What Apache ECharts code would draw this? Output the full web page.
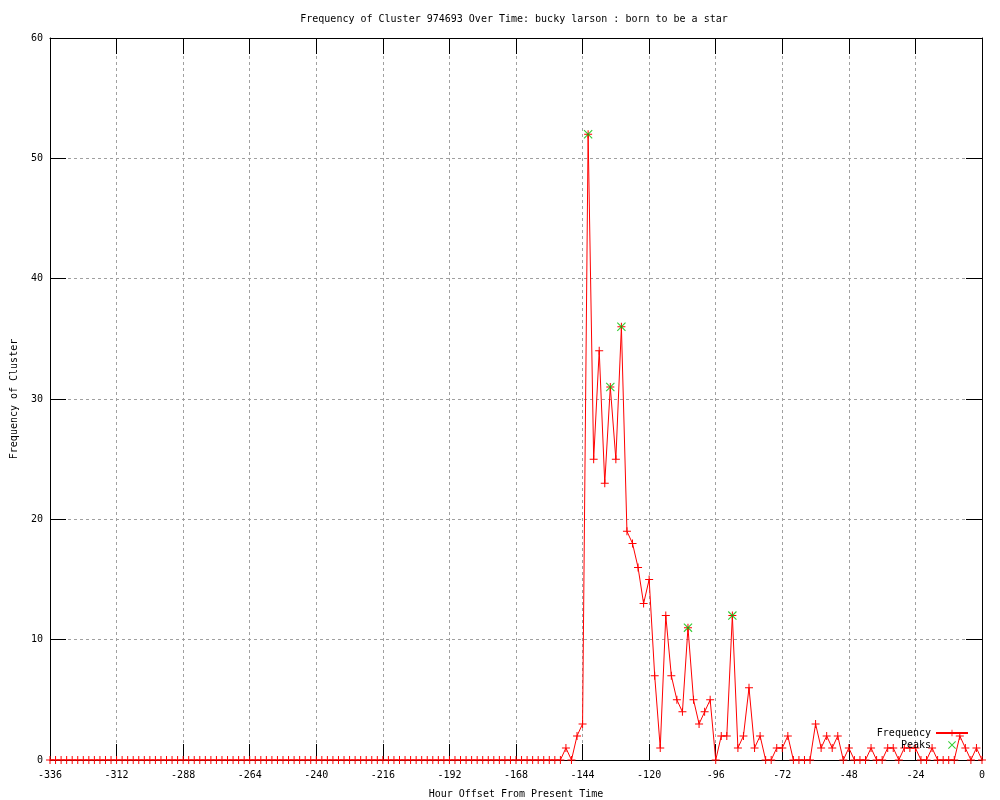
<!DOCTYPE html>
<html>
<head>
<meta charset="utf-8">
<title>Frequency of Cluster 974693</title>
<script src="https://cdn.jsdelivr.net/npm/echarts@6/dist/echarts.min.js"></script>
<style>
  html, body { margin: 0; padding: 0; background: #fff; }
  #chart { width: 1000px; height: 800px; }
</style>
</head>
<body>
<div id="chart"></div>
<script>
// hours run from -336 to 0, one sample every 2 hours
const startHour = -336
const stepHours = 2
const freq = [
  0, 0, 0, 0, 0, 0, 0, 0, 0, 0, 0, 0,
  0, 0, 0, 0, 0, 0, 0, 0, 0, 0, 0, 0,
  0, 0, 0, 0, 0, 0, 0, 0, 0, 0, 0, 0,
  0, 0, 0, 0, 0, 0, 0, 0, 0, 0, 0, 0,
  0, 0, 0, 0, 0, 0, 0, 0, 0, 0, 0, 0,
  0, 0, 0, 0, 0, 0, 0, 0, 0, 0, 0, 0,
  0, 0, 0, 0, 0, 0, 0, 0, 0, 0, 0, 0,
  0, 0, 0, 0, 0, 0, 0, 0, 0, 1, 0, 2,
  3, 52, 25, 34, 23, 31, 25, 36, 19, 18, 16, 13,
  15, 7, 1, 12, 7, 5, 4, 11, 5, 3, 4, 5,
  0, 2, 2, 12, 1, 2, 6, 1, 2, 0, 0, 1,
  1, 2, 0, 0, 0, 0, 3, 1, 2, 1, 2, 0,
  1, 0, 0, 0, 1, 0, 0, 1, 1, 0, 1, 1,
  1, 0, 0, 1, 0, 0, 0, 0, 2, 1, 0, 1,
  0
]
const peakHours = [-142, -134, -130, -106, -90]
const peakValues = [52, 31, 36, 11, 12]

const freqData = freq.map((v, i) => [startHour + i * stepHours, v])
const peakData = peakHours.map((h, i) => [h, peakValues[i]])

const FONT = 'DejaVu Sans Mono'
const plusSymbol = 'path://M0,3.5H8V4.5H0Z M3.5,0H4.5V8H3.5Z'
const crossSymbol = 'path://M0,0.8L0.8,0L9,8.2L8.2,9Z M8.2,0L9,0.8L0.8,9L0,8.2Z'

const tick = { show: true, inside: true, length: 16, lineStyle: { color: '#000', width: 1 } }
const border = { show: true, onZero: false, lineStyle: { color: '#000', width: 1 } }
const grid = { show: true, lineStyle: { color: '#a0a0a0', type: [3, 3], width: 1 } }

const chart = echarts.init(document.getElementById('chart'))
chart.setOption({
  animation: false,
  backgroundColor: '#fff',
  title: {
    text: 'Frequency of Cluster 974693 Over Time: bucky larson : born to be a star',
    left: 509,
    textAlign: 'center',
    top: 9,
    textStyle: { fontFamily: FONT, fontSize: 10, fontWeight: 'normal', color: '#000' }
  },
  legend: {
    orient: 'vertical',
    right: 31,
    top: 728,
    padding: 0,
    align: 'right',
    itemWidth: 32,
    itemHeight: 8,
    itemGap: 2,
    textStyle: { fontFamily: FONT, fontSize: 10, color: '#000' },
    data: ['Frequency', 'Peaks']
  },
  grid: { left: 50, right: 18, top: 38, bottom: 40, containLabel: false, outerBoundsMode: 'none' },
  xAxis: [
    {
      type: 'value',
      min: -336,
      max: 0,
      interval: 24,
      name: 'Hour Offset From Present Time',
      nameLocation: 'middle',
      nameGap: 29,
      nameTextStyle: { fontFamily: FONT, fontSize: 10, color: '#000' },
      axisLine: border,
      axisTick: tick,
      axisLabel: { margin: 10, fontFamily: FONT, fontSize: 10, color: '#000' },
      splitLine: grid
    },
    {
      type: 'value',
      position: 'top',
      min: -336,
      max: 0,
      interval: 24,
      axisLine: border,
      axisTick: tick,
      axisLabel: { show: false },
      splitLine: { show: false }
    }
  ],
  yAxis: [
    {
      type: 'value',
      min: 0,
      max: 60,
      interval: 10,
      name: 'Frequency of Cluster',
      nameLocation: 'middle',
      nameGap: 31,
      nameTextStyle: { fontFamily: FONT, fontSize: 10, color: '#000' },
      axisLine: border,
      axisTick: tick,
      axisLabel: { margin: 7, fontFamily: FONT, fontSize: 10, color: '#000' },
      splitLine: grid
    },
    {
      type: 'value',
      position: 'right',
      min: 0,
      max: 60,
      interval: 10,
      axisLine: border,
      axisTick: tick,
      axisLabel: { show: false },
      splitLine: { show: false }
    }
  ],
  series: [
    {
      name: 'Frequency',
      type: 'line',
      data: freqData,
      symbol: plusSymbol,
      symbolSize: 8,
      showSymbol: true,
      showAllSymbol: true,
      color: '#ff0000',
      itemStyle: { color: '#ff0000' },
      lineStyle: { color: '#ff0000', width: 1 },
      z: 3
    },
    {
      name: 'Peaks',
      type: 'scatter',
      data: peakData,
      symbol: crossSymbol,
      symbolSize: 9,
      color: '#00c000',
      itemStyle: { color: '#00c000' },
      z: 4
    }
  ]
})
</script>
</body>
</html>
